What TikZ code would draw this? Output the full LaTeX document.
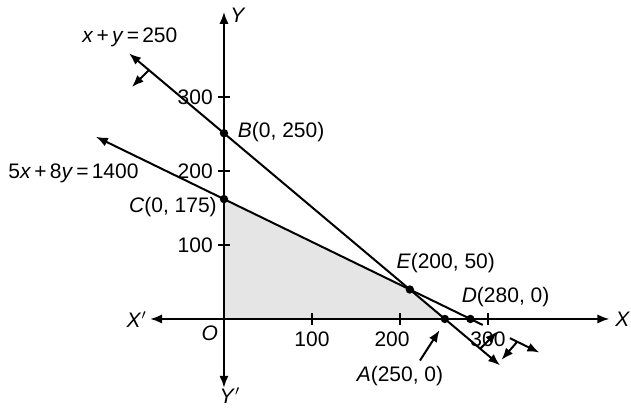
\documentclass[tikz,border=0pt]{standalone}
\usepackage{fontspec}
\setmainfont{Liberation Sans}
\usetikzlibrary{arrows.meta,calc}

\newcommand{\gap}{\kern1.6pt}

\begin{document}
\begin{tikzpicture}[x=0.44pt,y=0.37pt,>={Latex[length=6pt,width=4.6pt]},
    font=\fontsize{10.5}{12}\selectfont,line width=1pt]
  \useasboundingbox (-254.5,-121.6) rectangle (462.5,431);
  \coordinate (O) at (0,0);
  \coordinate (B) at (0,251);
  \coordinate (C) at (0,162);
  \coordinate (A) at (251,0);
  \coordinate (D) at (280,0);
  \coordinate (E) at (intersection of B--A and C--D);
  \fill[gray!20] (O) -- (C) -- (E) -- (A) -- cycle;
  % axes
  \coordinate (xl) at (-84,0);  \coordinate (xr) at (438,0);
  \coordinate (yb) at (0,-93);  \coordinate (yt) at (0,415);
  \draw[->] (O) -- (xr); \draw[->] (O) -- (xl);
  \draw[->] (O) -- (yt); \draw[->] (O) -- (yb);
  \node (X)  at (453,-1)  {\textit{X}};
  \node (Xp) at (-99,-1)  {\textit{X}$'$};
  \node (Y)  at (16,411)  {\textit{Y}};
  \node (Yp) at (7,-103)  {\textit{Y}$'$};
  \node (o)  at (-16,-19) {\textit{O}};
  \foreach \x/\lx in {100/100,200/191,300/300} {
    \draw (\x,-8) -- (\x,8);
    \node (t\x) at (\lx,-27) {\x};
  }
  \foreach \y in {100,200,300} {
    \draw (-7,\y) -- (7,\y);
    \node[left] (s\y) at (-4,\y) {\y};
  }
  % x+y=250
  \draw[<->] ($(B)!-0.43!(A)$) -- ($(B)!1.25!(A)$);
  \coordinate (h1) at ($(B)!-0.34!(A)$);
  \coordinate (h2) at ($(B)!1.16!(A)$);
  \draw[->] (h1) -- ($(h1)!12pt!-95:(A)$);
  \draw[->] (h2) -- ($(h2)!12pt!-95:(A)$);
  \node (l1) at (-107,381) {\textit{x}\gap+\gap\textit{y}\gap=\gap250};
  % 5x+8y=1400
  \coordinate (k1) at ($(C)!1.16!(D)$);
  \coordinate (k2) at ($(C)!1.28!(D)$);
  \coordinate (h3) at ($(C)!1.19!(D)$);
  \draw[<-] ($(C)!-0.52!(D)$) -- ($(C)!1.05!(D)$);
  \draw[->] (k1) -- (k2);
  \draw[->] (h3) -- ($(h3)!12pt!-105:(k2)$);
  \node (l2) at (-171,197) {5\textit{x}\gap+\gap8\textit{y}\gap=\gap1400};
  % corner points
  \foreach \p in {A,B,C,D,E} \fill (\p) circle (2.1pt);
  \node (bl) at (65,253)  {\textit{B}(0, 250)};
  \node (cl) at (-58,151) {\textit{C}(0, 175)};
  \node (el) at (252,76)  {\textit{E}(200, 50)};
  \node (dl) at (320,30)  {\textit{D}(280, 0)};
  \node (al) at (200,-77) {\textit{A}(250, 0)};
  \draw[->] ([xshift=10pt,yshift=-1pt]al.north) -- ($(A)+(-6,-15)$);
\end{tikzpicture}
\end{document}
